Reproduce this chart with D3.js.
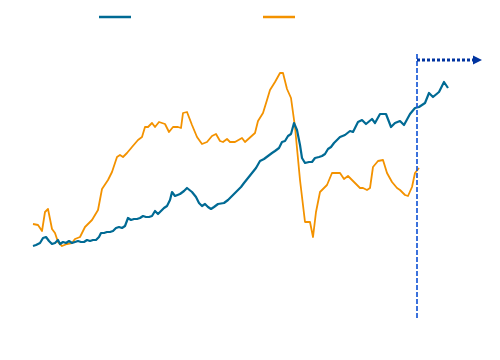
<!DOCTYPE html>
<html><head><meta charset="utf-8">
<script src="https://cdn.jsdelivr.net/npm/d3@7"></script>
<style>html,body{margin:0;padding:0;background:#fff;}</style>
</head><body>
<svg id="chart" width="500" height="360"></svg>
<script>
// period index (x) and index values (y)
const blueT = [0,3,7,10,13,16,19,22,25,27,30,33,36,39,42,45,48,51,54,57,60,63,66,68,71,74,77,80,83,86,89,92,95,98,101,104,107,110,113,116,119,122,125,128,131,134,137,139,142,147,151,154,159,163,166,169,172,175,178,181,185,191,195,201,205,208,211,215,219,223,227,231,235,239,242,246,249,252,255,258,261,264,267,269,272,276,279,282,286,289,292,295,298,301,304,307,312,317,320,325,329,333,339,342,347,353,358,362,367,371,377,382,386,392,396,400,406,411,415];
const blueV = [37,37.5,38.5,41,41.5,39.5,38,38.5,40,38,39,38.5,39.5,38.5,39,39.5,39,39,40,39.5,40,40,41.5,43.5,43.5,44,44,44.5,46,46.5,46,47,51,50,50.5,50.5,51,52,51.5,51.5,52,54.5,53,54.5,56,57,60,64,62,63,64.5,66,64,61.5,58.5,57,58,56.5,55.5,56.5,58,58.5,60,63,65,66.5,68.5,71,73.5,76,79.5,80.5,82,83.5,84.5,86,89,89.5,92,93,98.5,95,87.5,81,78.5,79,79,81,81.5,82,83,85.5,86.5,88.5,90,91.5,92.5,94.5,94,99,100,98,100.5,98.5,103,103,96.5,98.5,99.5,97.5,103,106,106.5,108.5,113.5,111.5,114,119,116];
const orangeT = [0,5,9,12,15,19,22,25,29,34,39,42,47,52,59,65,69,75,79,84,87,90,94,99,105,109,112,115,119,122,126,132,136,140,145,148,150,154,159,164,169,174,179,183,187,190,194,197,202,209,212,222,225,230,234,237,242,247,250,254,258,262,267,272,277,280,283,287,294,299,307,311,315,322,327,330,334,337,340,345,350,354,359,364,367,372,375,379,382,386];
const orangeV = [48,47.5,44.5,54,55.5,45.5,43.5,39,37,38,38.5,40.5,41.5,46.5,50,55,65.5,70,74,81.5,82.5,81.5,83.5,86.5,90,91.5,96.5,96.5,98.5,96.5,99,98,94,96.5,96.5,96,103.5,104,97.5,91.5,88,89,92,93,89.5,89,90.5,89,89,91,89,93.5,99.5,103.5,110,115,119,123.5,123.5,115.5,111,96.5,70,49,49,41.5,54,64,67.5,73.5,73.5,70.5,72,68.5,66,66,65,66,76.5,79.5,80,73.5,69,66,65,62.5,62,66.5,73.5,76];
const markerT = 384;
const xDomain = [0, 415];
const yDomain = [0, 132.5];

const svg = d3.select("#chart");
const x = d3.scaleLinear().domain(xDomain).range([33, 448]);
const y = d3.scaleLinear().domain(yDomain).range([320, 55]);

const blueColor = "#006a94", orangeColor = "#f39200";

const line = d3.line().x(d => x(d[0])).y(d => y(d[1]));

svg.append("path").datum(orangeT.map((t,i)=>[t, orangeV[i]]))
  .attr("d", line).attr("fill","none").attr("stroke", orangeColor)
  .attr("stroke-width", 1.8).attr("stroke-linejoin","round");
svg.append("path").datum(blueT.map((t,i)=>[t, blueV[i]]))
  .attr("d", line).attr("fill","none").attr("stroke", blueColor)
  .attr("stroke-width", 2.2).attr("stroke-linejoin","round");

// vertical dashed marker
svg.append("line")
  .attr("x1", x(markerT)).attr("x2", x(markerT))
  .attr("y1", y(yDomain[1]) - 1).attr("y2", 318)
  .attr("stroke", "#1a5ad6").attr("stroke-width", 1.7)
  .attr("stroke-dasharray", "5,2");

// dotted arrow
const defs = svg.append("defs");
defs.append("marker").attr("id","arr").attr("viewBox","0 0 10 10")
  .attr("refX", 0).attr("refY", 5).attr("markerWidth", 3).attr("markerHeight", 3.3)
  .attr("markerUnits","strokeWidth").attr("orient","auto")
  .append("path").attr("d","M0,0L10,5L0,10Z").attr("fill","#0033a0");
svg.append("line")
  .attr("x1", x(markerT)).attr("x2", 473)
  .attr("y1", 60).attr("y2", 60)
  .attr("stroke", "#0033a0").attr("stroke-width", 3)
  .attr("stroke-dasharray", "3,2")
  .attr("marker-end","url(#arr)");

// legend swatches
const legend = [{c: blueColor, x0: 99}, {c: orangeColor, x0: 263}];
svg.selectAll(".lg").data(legend).enter().append("line")
  .attr("x1", d => d.x0).attr("x2", d => d.x0 + 32)
  .attr("y1", 17).attr("y2", 17)
  .attr("stroke", d => d.c).attr("stroke-width", 2.5);
</script>
</body></html>
